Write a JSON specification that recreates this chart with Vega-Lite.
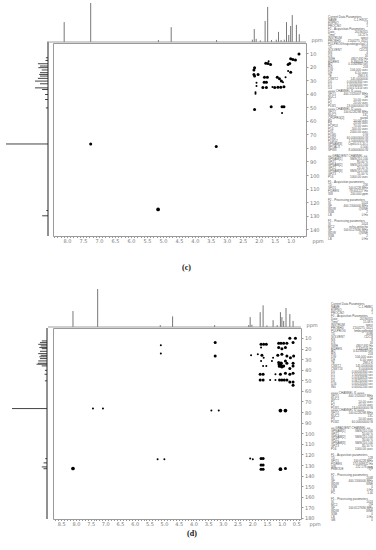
{
 "$schema": "https://vega.github.io/schema/vega-lite/v6.json",
 "padding": {"left": 5, "top": 2, "right": 0, "bottom": 0},
 "background": "white",
 "spacing": 16,
 "config": {
  "axis": {"labelFontSize": 5, "labelColor": "#777", "labelFont": "DejaVu Sans", "tickColor": "#999", "domain": false, "grid": false, "titleFontSize": 5, "titleFontWeight": "normal", "titleColor": "#777", "titleFont": "DejaVu Sans", "tickSize": 2, "labelPadding": 1.5},
  "title": {"font": "Liberation Serif", "fontSize": 8, "fontWeight": "bold", "color": "#111"}
 },
 "datasets": {
  "pc": [
   {"h":7.26,"c":77.1,"w":2},{"h":3.33,"c":79.0,"w":2},{"h":5.15,"c":125.4,"w":3},
   {"h":0.74,"c":10.8,"w":2},{"h":1.00,"c":14.2,"w":2},{"h":0.93,"c":14.7,"w":2},{"h":0.85,"c":15.2,"w":2},
   {"h":1.08,"c":18.4,"w":2},{"h":1.03,"c":17.7,"w":2},{"h":1.00,"c":24.1,"w":2},{"h":1.08,"c":23.3,"w":1},
   {"h":1.16,"c":27.8,"w":1},{"h":1.21,"c":34.9,"w":2},{"h":1.31,"c":35.2,"w":2},{"h":1.40,"c":35.2,"w":2},
   {"h":1.50,"c":35.4,"w":2},{"h":1.57,"c":35.0,"w":1},{"h":1.76,"c":35.5,"w":2},{"h":1.87,"c":35.5,"w":2},
   {"h":1.76,"c":31.5,"w":2},{"h":1.83,"c":31.5,"w":2},{"h":1.82,"c":27.8,"w":2},{"h":1.73,"c":27.8,"w":2},
   {"h":1.42,"c":27.8,"w":2},{"h":1.35,"c":29.0,"w":2},{"h":1.29,"c":30.7,"w":2},{"h":1.24,"c":31.5,"w":1},
   {"h":1.78,"c":17.5,"w":2},{"h":1.71,"c":17.7,"w":2},{"h":1.63,"c":18.4,"w":2},{"h":1.69,"c":16.0,"w":1},
   {"h":2.13,"c":20.9,"w":2},{"h":2.15,"c":22.6,"w":2},{"h":2.15,"c":25.8,"w":2},{"h":2.13,"c":27.0,"w":2},
   {"h":2.02,"c":25.8,"w":2},{"h":2.07,"c":32.0,"w":1},{"h":2.07,"c":34.4,"w":1},{"h":2.10,"c":38.9,"w":1},
   {"h":2.10,"c":40.1,"w":1},{"h":2.13,"c":51.7,"w":2},{"h":1.61,"c":49.7,"w":2},{"h":1.27,"c":49.7,"w":2},
   {"h":1.21,"c":49.7,"w":2},{"h":1.27,"c":54.2,"w":1}
  ],
  "pd": [
   {"h":8.10,"c":133.3,"w":3},{"h":7.42,"c":76.7,"w":1},{"h":7.08,"c":76.7,"w":1},
   {"h":5.11,"c":16.9,"w":1},{"h":5.11,"c":24.8,"w":1},{"h":5.22,"c":124.5,"w":1},{"h":4.99,"c":124.5,"w":1},
   {"h":3.26,"c":14.4,"w":2},{"h":3.26,"c":27.0,"w":2},{"h":3.39,"c":78.6,"w":1},{"h":3.14,"c":78.6,"w":1},
   {"h":2.07,"c":123.9,"w":1},{"h":1.98,"c":124.5,"w":1},
   {"h":1.70,"c":123.9,"w":2},{"h":1.63,"c":123.9,"w":2},{"h":1.70,"c":130.1,"w":2},{"h":1.63,"c":130.1,"w":2},
   {"h":1.70,"c":133.9,"w":2},{"h":1.63,"c":133.9,"w":2},{"h":1.04,"c":133.9,"w":3},{"h":0.87,"c":133.3,"w":2},
   {"h":1.04,"c":78.6,"w":3},{"h":0.87,"c":78.6,"w":3},
   {"h":1.70,"c":16.0,"w":2},{"h":1.61,"c":16.0,"w":2},{"h":1.52,"c":16.0,"w":2},{"h":1.10,"c":15.0,"w":2},
   {"h":1.02,"c":15.0,"w":2},{"h":0.93,"c":15.0,"w":2},{"h":0.82,"c":15.0,"w":2},{"h":0.61,"c":14.4,"w":2},
   {"h":0.72,"c":10.3,"w":2},{"h":0.53,"c":10.3,"w":2},
   {"h":1.70,"c":19.1,"w":1},{"h":1.10,"c":19.1,"w":2},{"h":0.99,"c":20.1,"w":2},{"h":0.87,"c":19.1,"w":2},
   {"h":2.04,"c":26.4,"w":1},{"h":1.81,"c":25.4,"w":1},{"h":1.67,"c":26.4,"w":2},{"h":1.61,"c":28.6,"w":1},
   {"h":1.29,"c":28.6,"w":1},{"h":1.13,"c":26.4,"w":2},{"h":0.99,"c":25.4,"w":2},{"h":0.82,"c":27.0,"w":2},
   {"h":0.70,"c":28.6,"w":2},{"h":0.59,"c":27.0,"w":2},
   {"h":1.70,"c":31.7,"w":1},{"h":1.33,"c":31.7,"w":1},{"h":1.10,"c":33.3,"w":2},{"h":1.02,"c":33.9,"w":3},
   {"h":0.87,"c":31.7,"w":2},{"h":0.82,"c":33.9,"w":2},{"h":0.61,"c":33.9,"w":2},{"h":1.07,"c":34.8,"w":3},
   {"h":1.63,"c":36.4,"w":1},{"h":1.52,"c":36.4,"w":1},{"h":1.07,"c":36.4,"w":3},{"h":0.99,"c":37.0,"w":3},
   {"h":0.93,"c":36.4,"w":2},{"h":0.72,"c":38.9,"w":2},{"h":0.61,"c":36.4,"w":2},
   {"h":1.73,"c":44.3,"w":2},{"h":1.63,"c":44.3,"w":2},{"h":1.21,"c":44.3,"w":1},{"h":1.04,"c":44.3,"w":2},
   {"h":0.87,"c":43.3,"w":2},{"h":0.72,"c":44.3,"w":2},{"h":0.61,"c":43.3,"w":2},
   {"h":1.73,"c":49.6,"w":2},{"h":1.63,"c":49.6,"w":2},{"h":1.39,"c":49.6,"w":1},{"h":1.21,"c":49.6,"w":1},
   {"h":1.07,"c":49.6,"w":2},{"h":0.99,"c":49.6,"w":2},{"h":0.91,"c":49.6,"w":2},{"h":0.82,"c":49.6,"w":2},
   {"h":0.72,"c":51.5,"w":2},{"h":0.61,"c":51.5,"w":2},{"h":0.61,"c":54.6,"w":2}
  ],
  "tc": [
   {"h":8.09,"a":0.51},{"h":7.26,"a":1.0},{"h":5.14,"a":0.05},{"h":4.74,"a":0.38},{"h":3.32,"a":0.05},
   {"h":2.20,"a":0.06},{"h":2.14,"a":0.33},{"h":2.08,"a":0.08},{"h":1.95,"a":0.04},{"h":1.80,"a":0.54},
   {"h":1.72,"a":0.9},{"h":1.60,"a":0.05},{"h":1.45,"a":0.06},{"h":1.38,"a":0.26},{"h":1.30,"a":0.05},
   {"h":1.20,"a":0.06},{"h":1.13,"a":0.51},{"h":1.06,"a":0.18},{"h":1.00,"a":0.41},{"h":0.95,"a":0.69},
   {"h":0.82,"a":0.44},{"h":0.73,"a":0.2}
  ],
  "td": [
   {"h":8.10,"a":0.42},{"h":7.26,"a":1.0},{"h":5.13,"a":0.05},{"h":4.71,"a":0.28},{"h":3.28,"a":0.05},
   {"h":2.12,"a":0.05},{"h":2.07,"a":0.26},{"h":2.01,"a":0.06},{"h":1.73,"a":0.39},{"h":1.63,"a":0.57},
   {"h":1.50,"a":0.04},{"h":1.29,"a":0.18},{"h":1.15,"a":0.05},{"h":1.04,"a":0.39},{"h":0.99,"a":0.26},
   {"h":0.93,"a":0.16},{"h":0.85,"a":0.5},{"h":0.72,"a":0.34},{"h":0.61,"a":0.16}
  ],
  "lc": [
   {"c":13.5,"a":0.05},{"c":15.5,"a":0.06},{"c":17.9,"a":0.24},{"c":19.6,"a":0.19},{"c":20.8,"a":0.23},
   {"c":22.5,"a":0.15},{"c":24.5,"a":0.19},{"c":25.8,"a":0.21},{"c":27.0,"a":0.19},{"c":28.7,"a":0.24},
   {"c":30.7,"a":0.31},{"c":32.7,"a":0.19},{"c":35.7,"a":0.31},{"c":36.9,"a":0.14},{"c":40.6,"a":0.07},
   {"c":44.3,"a":0.07},{"c":50.5,"a":0.05},{"c":77.1,"a":1.0},{"c":126.2,"a":0.04},{"c":130.1,"a":0.14}
  ],
  "ld": [
   {"c":12.8,"a":0.15},{"c":14.4,"a":0.2},{"c":16.0,"a":0.25},{"c":17.5,"a":0.18},{"c":19.1,"a":0.22},
   {"c":20.1,"a":0.15},{"c":22.6,"a":0.2},{"c":24.8,"a":0.25},{"c":26.4,"a":0.18},{"c":27.8,"a":0.22},
   {"c":29.5,"a":0.2},{"c":31.7,"a":0.25},{"c":33.9,"a":0.26},{"c":34.8,"a":0.3},{"c":36.4,"a":0.15},
   {"c":40.6,"a":0.06},{"c":44.3,"a":0.07},{"c":50.5,"a":0.06},{"c":76.7,"a":1.0},{"c":124.0,"a":0.05},
   {"c":128.0,"a":0.1},{"c":131.8,"a":0.15},{"c":133.5,"a":0.1}
  ],
  "txtc": [
   {"i":0,"k":"Current Data Parameters","v":""},{"i":1,"k":"NAME","v":"C-1 HSQC"},{"i":2,"k":"EXPNO","v":"3"},{"i":3,"k":"PROCNO","v":"1"},
   {"i":4,"k":"F2 - Acquisition Parameters","v":""},{"i":5,"k":"Date_","v":"20190315"},{"i":6,"k":"Time","v":"14.22 h"},
   {"i":7,"k":"INSTRUM","v":"spect"},{"i":8,"k":"PROBHD","v":"Z104275_0021"},{"i":9,"k":"PULPROG","v":"hsqcedetgpsisp2.3"},
   {"i":10,"k":"TD","v":"1024"},{"i":11,"k":"SOLVENT","v":"CDCl3"},{"i":12,"k":"NS","v":"4"},{"i":13,"k":"DS","v":"16"},
   {"i":14,"k":"SWH","v":"4807.692 Hz"},{"i":15,"k":"FIDRES","v":"9.390024 Hz"},{"i":16,"k":"AQ","v":"0.1064960 sec"},
   {"i":17,"k":"RG","v":"203"},{"i":18,"k":"DW","v":"104.000 usec"},{"i":19,"k":"DE","v":"6.50 usec"},{"i":20,"k":"TE","v":"298.0 K"},
   {"i":21,"k":"CNST2","v":"145.0000000"},{"i":22,"k":"D0","v":"0.00000300 sec"},{"i":23,"k":"D1","v":"1.50000000 sec"},
   {"i":24,"k":"D4","v":"0.00172414 sec"},
   {"i":25,"k":"==== CHANNEL f1 ====","v":""},{"i":26,"k":"SFO1","v":"400.1320007 MHz"},{"i":27,"k":"NUC1","v":"1H"},
   {"i":28,"k":"P1","v":"10.00 usec"},{"i":29,"k":"P2","v":"20.00 usec"},{"i":30,"k":"PLW1","v":"13.00000000 W"},
   {"i":31,"k":"==== CHANNEL f2 ====","v":""},{"i":32,"k":"SFO2","v":"100.6228298 MHz"},{"i":33,"k":"NUC2","v":"13C"},
   {"i":34,"k":"CPDPRG[2]","v":"garp4"},{"i":35,"k":"P3","v":"10.00 usec"},{"i":36,"k":"P4","v":"20.00 usec"},
   {"i":37,"k":"PCPD2","v":"70.00 usec"},{"i":38,"k":"P14","v":"500.00 usec"},{"i":39,"k":"P31","v":"2000.00 usec"},
   {"i":40,"k":"PLW0","v":"0 W"},{"i":41,"k":"PLW2","v":"60.00000000 W"},{"i":42,"k":"PLW12","v":"1.50000000 W"},
   {"i":43,"k":"SPNAM[3]","v":"Crp60,0.5,20.1"},{"i":44,"k":"SPOAL3","v":"0.500"},{"i":45,"k":"SPW3","v":"8.00000000 W"},
   {"i":47,"k":"== GRADIENT CHANNEL ==","v":""},{"i":48,"k":"GPNAM[1]","v":"SMSQ10.100"},{"i":49,"k":"GPZ1","v":"80.00 %"},
   {"i":50,"k":"GPNAM[2]","v":"SMSQ10.100"},{"i":51,"k":"GPZ2","v":"20.10 %"},{"i":52,"k":"GPNAM[3]","v":"SMSQ10.100"},
   {"i":53,"k":"GPZ3","v":"11.00 %"},{"i":54,"k":"P16","v":"1000.00 usec"},
   {"i":56,"k":"F1 - Acquisition parameters","v":""},{"i":57,"k":"TD","v":"256"},{"i":58,"k":"SFO1","v":"100.6228 MHz"},
   {"i":59,"k":"FIDRES","v":"78.601227 Hz"},{"i":60,"k":"SW","v":"200.000 ppm"},
   {"i":62,"k":"F2 - Processing parameters","v":""},{"i":63,"k":"SI","v":"1024"},{"i":64,"k":"SF","v":"400.1300000 MHz"},
   {"i":65,"k":"WDW","v":"QSINE"},{"i":66,"k":"SSB","v":"2"},{"i":67,"k":"LB","v":"0 Hz"},
   {"i":69,"k":"F1 - Processing parameters","v":""},{"i":70,"k":"SI","v":"1024"},{"i":71,"k":"MC2","v":"echo-antiecho"},
   {"i":72,"k":"SF","v":"100.6127690 MHz"},{"i":73,"k":"WDW","v":"QSINE"},{"i":74,"k":"SSB","v":"2"},{"i":75,"k":"LB","v":"0 Hz"}
  ],
  "txtd": [
   {"i":0,"k":"Current Data Parameters","v":""},{"i":1,"k":"NAME","v":"C-1 HMBC"},{"i":2,"k":"EXPNO","v":"4"},{"i":3,"k":"PROCNO","v":"1"},
   {"i":4,"k":"F2 - Acquisition Parameters","v":""},{"i":5,"k":"Date_","v":"20190315"},{"i":6,"k":"Time","v":"15.08 h"},
   {"i":7,"k":"INSTRUM","v":"spect"},{"i":8,"k":"PROBHD","v":"Z104275_0021"},{"i":9,"k":"PULPROG","v":"hmbcgplpndqf"},
   {"i":10,"k":"TD","v":"4096"},{"i":11,"k":"SOLVENT","v":"CDCl3"},{"i":12,"k":"NS","v":"8"},{"i":13,"k":"DS","v":"16"},
   {"i":14,"k":"SWH","v":"4807.692 Hz"},{"i":15,"k":"FIDRES","v":"2.347506 Hz"},{"i":16,"k":"AQ","v":"0.4259840 sec"},
   {"i":17,"k":"RG","v":"203"},{"i":18,"k":"DW","v":"104.000 usec"},{"i":19,"k":"DE","v":"6.50 usec"},{"i":20,"k":"TE","v":"298.0 K"},
   {"i":21,"k":"CNST2","v":"145.0000000"},{"i":22,"k":"CNST13","v":"8.0000000"},{"i":23,"k":"D0","v":"0.00000300 sec"},
   {"i":24,"k":"D1","v":"1.50000000 sec"},{"i":25,"k":"D2","v":"0.00344828 sec"},{"i":26,"k":"D6","v":"0.06250000 sec"},
   {"i":27,"k":"D16","v":"0.00020000 sec"},{"i":28,"k":"IN0","v":"0.00002200 sec"},
   {"i":30,"k":"==== CHANNEL f1 ====","v":""},{"i":31,"k":"SFO1","v":"400.1320007 MHz"},{"i":32,"k":"NUC1","v":"1H"},
   {"i":33,"k":"P1","v":"10.00 usec"},{"i":34,"k":"P2","v":"20.00 usec"},{"i":35,"k":"PLW1","v":"13.00000000 W"},
   {"i":36,"k":"==== CHANNEL f2 ====","v":""},{"i":37,"k":"SFO2","v":"100.6228298 MHz"},{"i":38,"k":"NUC2","v":"13C"},
   {"i":39,"k":"P3","v":"10.00 usec"},{"i":40,"k":"PLW2","v":"60.00000000 W"},
   {"i":42,"k":"== GRADIENT CHANNEL ==","v":""},{"i":43,"k":"GPNAM[1]","v":"SMSQ10.100"},{"i":44,"k":"GPZ1","v":"50.00 %"},
   {"i":45,"k":"GPNAM[2]","v":"SMSQ10.100"},{"i":46,"k":"GPZ2","v":"30.00 %"},{"i":47,"k":"GPNAM[3]","v":"SMSQ10.100"},
   {"i":48,"k":"GPZ3","v":"40.10 %"},{"i":49,"k":"P16","v":"1000.00 usec"},
   {"i":51,"k":"F1 - Acquisition parameters","v":""},{"i":52,"k":"TD","v":"128"},{"i":53,"k":"SFO1","v":"100.6228 MHz"},
   {"i":54,"k":"FIDRES","v":"174.669922 Hz"},{"i":55,"k":"SW","v":"222.178 ppm"},{"i":56,"k":"FnMODE","v":"QF"},
   {"i":58,"k":"F2 - Processing parameters","v":""},{"i":59,"k":"SI","v":"2048"},{"i":60,"k":"SF","v":"400.1300000 MHz"},
   {"i":61,"k":"WDW","v":"SINE"},{"i":62,"k":"SSB","v":"0"},{"i":63,"k":"LB","v":"0 Hz"},{"i":64,"k":"PC","v":"1.40"},
   {"i":66,"k":"F1 - Processing parameters","v":""},{"i":67,"k":"SI","v":"1024"},{"i":68,"k":"MC2","v":"QF"},
   {"i":69,"k":"SF","v":"100.6127690 MHz"},{"i":70,"k":"WDW","v":"SINE"},{"i":71,"k":"SSB","v":"0"},{"i":72,"k":"LB","v":"0 Hz"},
   {"i":73,"k":"GB","v":"0"}
  ]
 },
 "vconcat": [
  {
   "spacing": 4,
   "title": {"text": "(c)", "orient": "bottom", "anchor": "middle", "offset": 20},
   "hconcat": [
    {
     "width": 253, "height": 193,
     "view": {"stroke": "#9a9a9a", "strokeWidth": 1},
     "resolve": {"scale": {"x": "independent", "y": "independent"}},
     "layer": [
      {
       "data": {"name": "pc"},
       "mark": {"type": "circle", "color": "#000", "opacity": 1},
       "encoding": {
        "x": {"field": "h", "type": "quantitative", "scale": {"domain": [0.52, 8.44], "reverse": true, "nice": false, "zero": false},
              "axis": {"orient": "bottom", "tickCount": 80, "labelExpr": "abs(datum.value*2 - round(datum.value*2)) < 0.001 ? format(datum.value, '.1f') : ''", "labelOverlap": false, "labelFlush": false, "labelBound": false, "tickSize": 1.5, "labelPadding": 1, "title": "ppm", "titleX": 259, "titleY": 2.5, "titleAlign": "left", "titleBaseline": "top", "titleAnchor": null}},
        "y": {"field": "c", "type": "quantitative", "scale": {"domain": [2.6, 145], "reverse": true, "nice": false, "zero": false},
              "axis": {"orient": "right", "tickCount": 15, "format": "d", "labelOverlap": false, "labelFlush": false, "title": "ppm", "titleAngle": 0, "titleX": 5, "titleY": -1, "titleAlign": "left", "titleBaseline": "bottom"}},
        "size": {"field": "w", "type": "quantitative", "scale": {"domain": [1, 3], "range": [4, 14]}, "legend": null}
       }
      },
      {
       "data": {"name": "tc"},
       "mark": {"type": "rule", "color": "#555", "strokeWidth": 0.8, "clip": false},
       "encoding": {
        "x": {"field": "h", "type": "quantitative", "scale": {"domain": [0.52, 8.44], "reverse": true, "nice": false, "zero": false}, "axis": null},
        "y": {"field": "a", "type": "quantitative", "scale": {"domain": [0, 1], "range": [-1, -40], "nice": false, "zero": false}, "axis": null},
        "y2": {"datum": 0}
       }
      },
      {
       "data": {"values": [{"from": 8.56, "to": 0.52, "a": 0}]},
       "mark": {"type": "rule", "color": "#888", "strokeWidth": 0.8, "clip": false},
       "encoding": {
        "x": {"field": "from", "type": "quantitative", "scale": {"domain": [0.52, 8.44], "reverse": true, "nice": false, "zero": false}, "axis": null},
        "x2": {"field": "to"},
        "y": {"field": "a", "type": "quantitative", "scale": {"domain": [0, 1], "range": [-1, -40], "nice": false, "zero": false}, "axis": null}
       }
      },
      {
       "data": {"name": "lc"},
       "mark": {"type": "rule", "color": "#444", "strokeWidth": 1, "clip": false},
       "encoding": {
        "y": {"field": "c", "type": "quantitative", "scale": {"domain": [2.6, 145], "reverse": true, "nice": false, "zero": false}, "axis": null},
        "x": {"field": "a", "type": "quantitative", "scale": {"domain": [0, 1], "range": [-5, -47], "nice": false, "zero": false}, "axis": null},
        "x2": {"datum": 0}
       }
      },
      {
       "data": {"values": [{"from": 1.5, "to": 145, "a": 0}]},
       "mark": {"type": "rule", "color": "#222", "strokeWidth": 1, "clip": false},
       "encoding": {
        "y": {"field": "from", "type": "quantitative", "scale": {"domain": [2.6, 145], "reverse": true, "nice": false, "zero": false}, "axis": null},
        "y2": {"field": "to"},
        "x": {"field": "a", "type": "quantitative", "scale": {"domain": [0, 1], "range": [-5, -47], "nice": false, "zero": false}, "axis": null}
       }
      }
     ]
    },
    {
     "width": 40, "height": 193,
     "view": {"stroke": null},
     "data": {"name": "txtc"},
     "layer": [
      {
       "mark": {"type": "text", "align": "left", "baseline": "middle", "font": "Liberation Sans", "fontSize": 3, "color": "#555"},
       "encoding": {
        "x": {"datum": 0, "type": "quantitative", "scale": {"domain": [0, 1], "nice": false, "zero": false}, "axis": null},
        "y": {"field": "i", "type": "quantitative", "scale": {"domain": [8.81, 74.24], "reverse": true, "nice": false, "zero": false}, "axis": null},
        "text": {"field": "k"}
       }
      },
      {
       "mark": {"type": "text", "align": "right", "baseline": "middle", "font": "Liberation Sans", "fontSize": 3, "color": "#555"},
       "encoding": {
        "x": {"datum": 1, "type": "quantitative"},
        "y": {"field": "i", "type": "quantitative"},
        "text": {"field": "v"}
       }
      }
     ]
    }
   ]
  },
  {
   "spacing": 10,
   "title": {"text": "(d)", "orient": "bottom", "anchor": "middle", "offset": 3},
   "hconcat": [
    {
     "width": 248, "height": 191,
     "view": {"stroke": "#9a9a9a", "strokeWidth": 1},
     "resolve": {"scale": {"x": "independent", "y": "independent"}},
     "layer": [
      {
       "data": {"name": "pd"},
       "mark": {"type": "circle", "color": "#000", "opacity": 1},
       "encoding": {
        "x": {"field": "h", "type": "quantitative", "scale": {"domain": [0.34, 8.78], "reverse": true, "nice": false, "zero": false},
              "axis": {"orient": "bottom", "tickCount": 85, "labelExpr": "abs(datum.value*2 - round(datum.value*2)) < 0.001 ? format(datum.value, '.1f') : ''", "labelOverlap": false, "labelFlush": false, "labelBound": false, "tickSize": 1.5, "labelPadding": 1, "title": "ppm", "titleX": 256, "titleY": 2.5, "titleAlign": "left", "titleBaseline": "top", "titleAnchor": null}},
        "y": {"field": "c", "type": "quantitative", "scale": {"domain": [0.6, 181], "reverse": true, "nice": false, "zero": false},
              "axis": {"orient": "right", "tickCount": 18, "format": "d", "labelOverlap": false, "labelFlush": false, "title": "ppm", "titleAngle": 0, "titleX": 5, "titleY": -1, "titleAlign": "left", "titleBaseline": "bottom"}},
        "size": {"field": "w", "type": "quantitative", "scale": {"domain": [1, 3], "range": [3, 12]}, "legend": null}
       }
      },
      {
       "data": {"name": "td"},
       "mark": {"type": "rule", "color": "#555", "strokeWidth": 0.8, "clip": false},
       "encoding": {
        "x": {"field": "h", "type": "quantitative", "scale": {"domain": [0.34, 8.78], "reverse": true, "nice": false, "zero": false}, "axis": null},
        "y": {"field": "a", "type": "quantitative", "scale": {"domain": [0, 1], "range": [-1, -39], "nice": false, "zero": false}, "axis": null},
        "y2": {"datum": 0}
       }
      },
      {
       "data": {"values": [{"from": 8.95, "to": 0.34, "a": 0}]},
       "mark": {"type": "rule", "color": "#888", "strokeWidth": 0.8, "clip": false},
       "encoding": {
        "x": {"field": "from", "type": "quantitative", "scale": {"domain": [0.34, 8.78], "reverse": true, "nice": false, "zero": false}, "axis": null},
        "x2": {"field": "to"},
        "y": {"field": "a", "type": "quantitative", "scale": {"domain": [0, 1], "range": [-1, -39], "nice": false, "zero": false}, "axis": null}
       }
      },
      {
       "data": {"name": "ld"},
       "mark": {"type": "rule", "color": "#444", "strokeWidth": 1, "clip": false},
       "encoding": {
        "y": {"field": "c", "type": "quantitative", "scale": {"domain": [0.6, 181], "reverse": true, "nice": false, "zero": false}, "axis": null},
        "x": {"field": "a", "type": "quantitative", "scale": {"domain": [0, 1], "range": [-6, -41], "nice": false, "zero": false}, "axis": null},
        "x2": {"datum": 0}
       }
      },
      {
       "data": {"values": [{"from": 0.6, "to": 181, "a": 0}]},
       "mark": {"type": "rule", "color": "#222", "strokeWidth": 1, "clip": false},
       "encoding": {
        "y": {"field": "from", "type": "quantitative", "scale": {"domain": [0.6, 181], "reverse": true, "nice": false, "zero": false}, "axis": null},
        "y2": {"field": "to"},
        "x": {"field": "a", "type": "quantitative", "scale": {"domain": [0, 1], "range": [-6, -41], "nice": false, "zero": false}, "axis": null}
       }
      }
     ]
    },
    {
     "width": 42, "height": 191,
     "view": {"stroke": null},
     "data": {"name": "txtd"},
     "layer": [
      {
       "mark": {"type": "text", "align": "left", "baseline": "middle", "font": "Liberation Sans", "fontSize": 3, "color": "#555"},
       "encoding": {
        "x": {"datum": 0, "type": "quantitative", "scale": {"domain": [0, 1], "nice": false, "zero": false}, "axis": null},
        "y": {"field": "i", "type": "quantitative", "scale": {"domain": [8.14, 72.88], "reverse": true, "nice": false, "zero": false}, "axis": null},
        "text": {"field": "k"}
       }
      },
      {
       "mark": {"type": "text", "align": "right", "baseline": "middle", "font": "Liberation Sans", "fontSize": 3, "color": "#555"},
       "encoding": {
        "x": {"datum": 1, "type": "quantitative"},
        "y": {"field": "i", "type": "quantitative"},
        "text": {"field": "v"}
       }
      }
     ]
    }
   ]
  }
 ]
}
